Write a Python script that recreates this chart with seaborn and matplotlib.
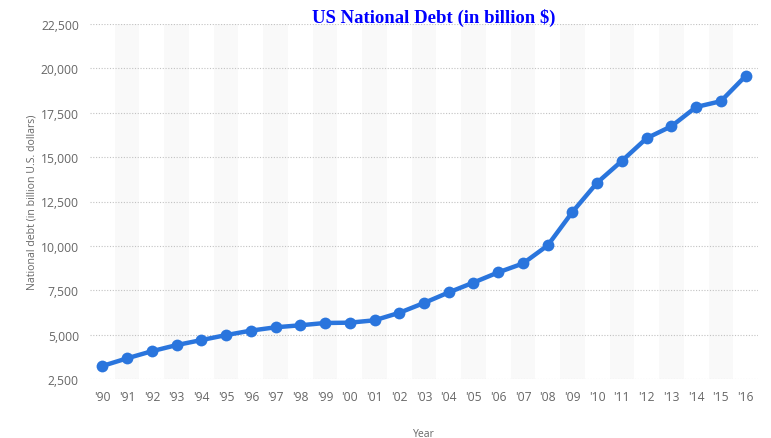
import matplotlib
matplotlib.use("Agg")
import matplotlib.pyplot as plt
import seaborn as sns
import pandas as pd
from matplotlib.ticker import FuncFormatter

years = list(range(1990, 2017))
year_labels = ["'" + str(y)[2:] for y in years]
debt = [3233, 3665, 4065, 4411, 4693, 4974, 5225, 5413, 5526, 5656, 5674, 5807,
        6228, 6783, 7379, 7933, 8507, 9008, 10025, 11910, 13562, 14790, 16066,
        16738, 17824, 18151, 19573]
y_ticks = [2500, 5000, 7500, 10000, 12500, 15000, 17500, 20000, 22500]

df = pd.DataFrame({"year": years, "debt": debt})

sns.set_style("white")
plt.rcParams['font.family'] = ['Open Sans', 'DejaVu Sans']

fig = plt.figure(figsize=(7.71, 4.39), dpi=100)
ax = fig.add_axes([90/771, 59/439, 668/771, 355/439])

for i, y in enumerate(years):
    if i % 2 == 1:
        ax.axvspan(y - 0.5, y + 0.5, color="#f9f9f9", zorder=0, lw=0)

sns.lineplot(data=df, x="year", y="debt", ax=ax, color="#2a75dd", linewidth=3.2,
             marker="o", markersize=8.5, markeredgewidth=0, zorder=3)

ax.set_xlim(years[0] - 0.5, years[-1] + 0.5)
ax.set_ylim(y_ticks[0], y_ticks[-1])
ax.set_yticks(y_ticks)
ax.yaxis.set_major_formatter(FuncFormatter(lambda v, p: f"{int(v):,}"))
ax.set_xticks(years)
ax.set_xticklabels(year_labels)
ax.grid(axis="y", color="#c2c2c2", linestyle=(0, (1, 1.5)), linewidth=0.8)
ax.grid(axis="x", visible=False)
for s in ax.spines.values():
    s.set_visible(False)
ax.tick_params(axis="both", length=0, labelsize=8.7, labelcolor="#666666")
ax.tick_params(axis="x", pad=8)
ax.tick_params(axis="y", pad=8)
ax.set_xlabel("Year", fontsize=7.5, color="#666666", labelpad=18)
ax.set_ylabel("National debt (in billion U.S. dollars)", fontsize=7.6, color="#666666")
ax.yaxis.set_label_coords(-0.079, 0.5)

fig.text(434/771, 1 - 18/439, "US National Debt (in billion $)", ha="center", va="center",
         fontsize=13.5, fontweight="bold", color="#0000ff", family=["Liberation Serif", "DejaVu Serif"])

fig.savefig("out.png", dpi=100)
